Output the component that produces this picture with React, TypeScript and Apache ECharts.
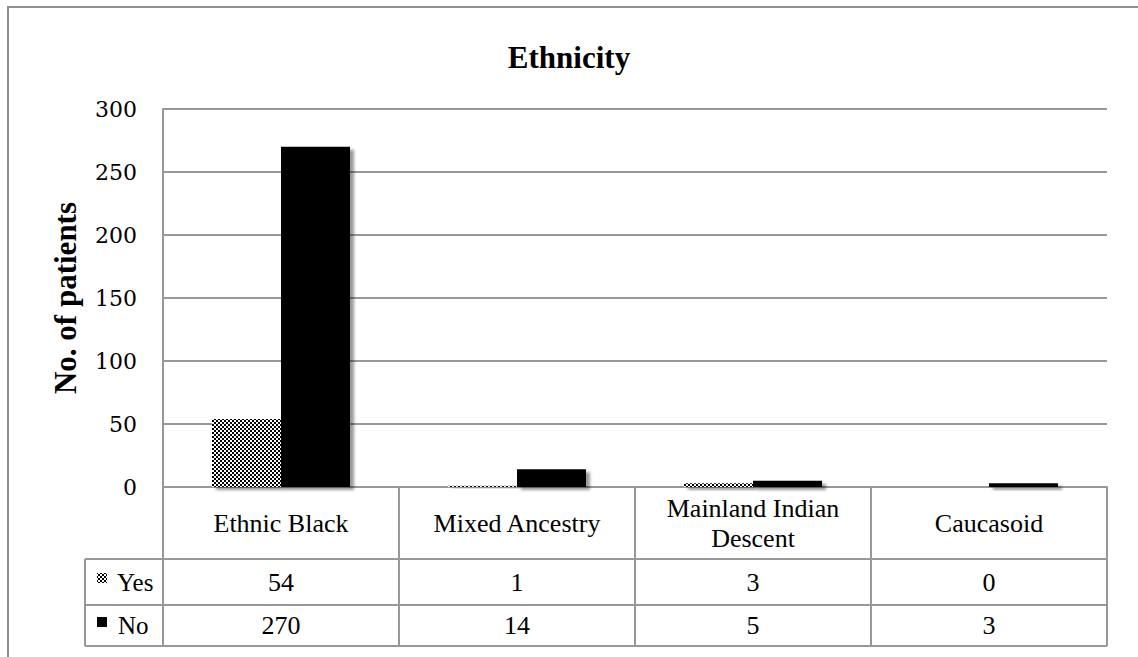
import React, { useEffect, useRef } from "react";
import * as echarts from "echarts";

// Patients by ethnicity, split by Yes / No
const categories = ["Ethnic Black", "Mixed Ancestry", "Mainland Indian\nDescent", "Caucasoid"];
const yesValues = [54, 1, 3, 0];
const noValues = [270, 14, 5, 3];
const seriesNames = ["Yes", "No"];
const yTicks = { min: 0, max: 300, interval: 50 };

const SERIF = "Liberation Serif";
const NUM_FONT = "DejaVu Serif";
const GRID_COLOR = "#989898";

function makeChecker(): HTMLCanvasElement {
  const c = document.createElement("canvas");
  c.width = 4;
  c.height = 4;
  const ctx = c.getContext("2d")!;
  ctx.fillStyle = "#ffffff";
  ctx.fillRect(0, 0, 4, 4);
  ctx.fillStyle = "#000000";
  ctx.fillRect(0, 0, 2, 2);
  ctx.fillRect(2, 2, 2, 2);
  return c;
}

export default function App() {
  const ref = useRef<HTMLDivElement>(null);

  useEffect(() => {
    if (!ref.current) return;
    const chart = echarts.init(ref.current, null, { renderer: "svg" });
    const checker = makeChecker();
    const checkerFill: any = { image: checker, repeat: "repeat", imageWidth: 4, imageHeight: 4 };

    const left = 163;
    const right = 1107;
    const top = 109;
    const axisY = 487;
    const row1 = 559;
    const row2 = 605;
    const row3 = 646;
    const tableLeft = 85;

    const hLine = (x1: number, y: number, x2: number) => ({
      type: "line",
      shape: { x1, y1: y, x2, y2: y },
      style: { stroke: GRID_COLOR, lineWidth: 2 },
      z: 10,
    });
    const vLine = (x: number, y1: number, y2: number) => ({
      type: "line",
      shape: { x1: x, y1, x2: x, y2 },
      style: { stroke: GRID_COLOR, lineWidth: 2 },
      z: 10,
    });

    const tableText = { color: "#000", fontFamily: SERIF, fontSize: 26, fontWeight: "normal" as const };

    // extra category axes print the per-category counts as the table rows
    const valueAxis = (data: number[], margin: number) => ({
      type: "category",
      gridIndex: 0,
      position: "bottom",
      data: data.map(String),
      axisLine: { show: false },
      axisTick: { show: false },
      splitLine: { show: false },
      axisLabel: {
        interval: 0,
        margin,
        verticalAlign: "middle",
        ...tableText,
      },
    });

    chart.setOption({
      animation: false,
      backgroundColor: "#ffffff",
      textStyle: { fontFamily: SERIF },
      title: {
        text: "Ethnicity",
        left: "center",
        top: 37,
        textStyle: { fontFamily: SERIF, fontSize: 31, fontWeight: "bold", color: "#000" },
      },
      grid: { left, right: 1138 - right, top, bottom: 657 - axisY, containLabel: false },
      xAxis: [
        {
          type: "category",
          data: categories,
          axisLine: { show: true, lineStyle: { color: GRID_COLOR, width: 2 } },
          axisTick: { show: true, length: row3 - axisY, lineStyle: { color: GRID_COLOR, width: 2 } },
          axisLabel: {
            interval: 0,
            margin: 36,
            verticalAlign: "middle",
            lineHeight: 30,
            ...tableText,
          },
        },
        valueAxis(yesValues, row1 - axisY + (row2 - row1) / 2),
        valueAxis(noValues, row2 - axisY + (row3 - row2) / 2),
      ],
      yAxis: {
        type: "value",
        min: yTicks.min,
        max: yTicks.max,
        interval: yTicks.interval,
        name: "No. of patients",
        nameLocation: "middle",
        nameGap: 82,
        nameRotate: 90,
        nameTextStyle: { fontFamily: SERIF, fontSize: 31, fontWeight: "bold", color: "#000" },
        axisLine: { show: true, lineStyle: { color: GRID_COLOR, width: 2 } },
        axisTick: { show: false },
        splitLine: { show: true, lineStyle: { color: GRID_COLOR, width: 2 } },
        axisLabel: { margin: 26, color: "#000", fontFamily: NUM_FONT, fontSize: 22, fontWeight: "normal" },
      },
      series: [
        {
          name: seriesNames[0],
          type: "bar",
          data: yesValues,
          barWidth: 69,
          barGap: "0%",
          itemStyle: {
            color: checkerFill,
            shadowColor: "rgba(0,0,0,0.4)",
            shadowBlur: 3,
            shadowOffsetX: 4,
            shadowOffsetY: 3,
          },
        },
        {
          name: seriesNames[1],
          type: "bar",
          data: noValues,
          barWidth: 69,
          barGap: "0%",
          itemStyle: {
            color: "#000",
            shadowColor: "rgba(0,0,0,0.4)",
            shadowBlur: 3,
            shadowOffsetX: 4,
            shadowOffsetY: 3,
          },
        },
      ],
      graphic: [
        // outer chart frame
        {
          type: "rect",
          shape: { x: 8, y: 7, width: 1160, height: 700 },
          style: { fill: "none", stroke: "#909090", lineWidth: 2 },
          z: 1,
        },
        // data table rules
        hLine(tableLeft, row1, right),
        hLine(tableLeft, row2, right),
        hLine(tableLeft, row3, right),
        vLine(tableLeft, row1, row3),
        // legend keys inside the table
        {
          type: "rect",
          shape: { x: 97, y: 573, width: 10, height: 10 },
          style: { fill: checkerFill },
          z: 11,
        },
        {
          type: "text",
          x: 117,
          y: (row1 + row2) / 2,
          style: {
            text: seriesNames[0],
            fontFamily: SERIF,
            fontSize: 25,
            fontWeight: "normal",
            fill: "#000",
            verticalAlign: "middle",
          },
          z: 11,
        },
        {
          type: "rect",
          shape: { x: 97, y: 617, width: 10, height: 10 },
          style: { fill: "#000" },
          z: 11,
        },
        {
          type: "text",
          x: 118,
          y: (row2 + row3) / 2,
          style: {
            text: seriesNames[1],
            fontFamily: SERIF,
            fontSize: 25,
            fontWeight: "normal",
            fill: "#000",
            verticalAlign: "middle",
          },
          z: 11,
        },
      ],
    });

    return () => chart.dispose();
  }, []);

  return (
    <div
      ref={ref}
      style={{ position: "absolute", left: 0, top: 0, width: 1138, height: 657, background: "#fff" }}
    />
  );
}
